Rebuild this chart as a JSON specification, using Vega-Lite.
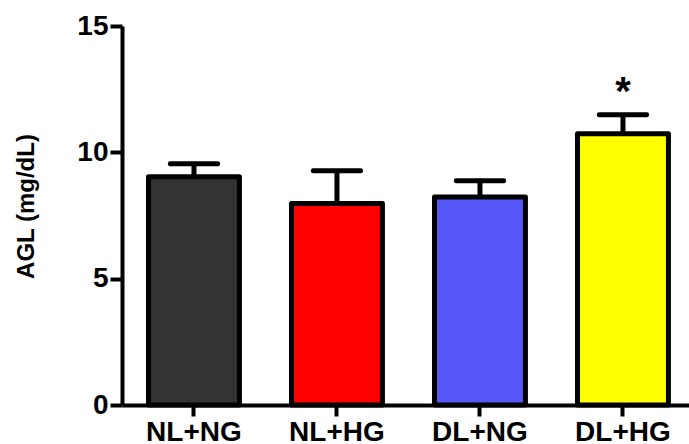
{
  "$schema": "https://vega.github.io/schema/vega-lite/v6.json",
  "autosize": {"type": "none"},
  "padding": {"left": 122, "top": 26, "right": 0, "bottom": 39},
  "width": 567,
  "height": 379,
  "background": "white",
  "config": {"view": {"stroke": null}},
  "data": {
    "values": [
      {"group": "NL+NG", "mean": 9.03, "upper": 9.55, "sig": ""},
      {"group": "NL+HG", "mean": 7.97, "upper": 9.27, "sig": ""},
      {"group": "DL+NG", "mean": 8.23, "upper": 8.88, "sig": ""},
      {"group": "DL+HG", "mean": 10.74, "upper": 11.49, "sig": "*"}
    ]
  },
  "encoding": {
    "x": {
      "field": "group",
      "type": "nominal",
      "sort": ["NL+NG", "NL+HG", "DL+NG", "DL+HG"],
      "scale": {"paddingInner": 0.364, "paddingOuter": 0.1645, "align": 0.563},
      "axis": {
        "title": null,
        "labelAngle": 0,
        "labelFont": "Liberation Sans",
        "labelFontWeight": "bold",
        "labelFontSize": 28,
        "labelColor": "black",
        "labelPadding": 2,
        "tickSize": 11,
        "tickWidth": 4,
        "tickColor": "black",
        "domainColor": "black",
        "domainWidth": 4,
        "grid": false
      }
    }
  },
  "layer": [
    {
      "mark": {"type": "rule", "stroke": "black", "strokeWidth": 5},
      "encoding": {
        "y": {"field": "mean", "type": "quantitative"},
        "y2": {"field": "upper"}
      }
    },
    {
      "mark": {"type": "tick", "color": "black", "size": 52, "thickness": 5, "cornerRadius": 2, "opacity": 1},
      "encoding": {
        "y": {"field": "upper", "type": "quantitative"}
      }
    },
    {
      "mark": {"type": "bar", "stroke": "black", "strokeWidth": 5, "strokeJoin": "round"},
      "encoding": {
        "y": {
          "field": "mean",
          "type": "quantitative",
          "scale": {"domain": [0, 15], "nice": false, "zero": true},
          "axis": {
            "title": "AGL (mg/dL)",
            "values": [0, 5, 10, 15],
            "grid": false,
            "labelFont": "Liberation Sans",
            "labelFontWeight": "bold",
            "labelFontSize": 28,
            "labelColor": "black",
            "labelPadding": 2,
            "tickSize": 12,
            "tickWidth": 4,
            "tickColor": "black",
            "domainColor": "black",
            "domainWidth": 4,
            "titleFont": "Liberation Sans",
            "titleFontWeight": "bold",
            "titleFontSize": 24,
            "titleColor": "black",
            "titleAngle": 270,
            "titleAlign": "center",
            "titleBaseline": "middle",
            "titleX": -96,
            "titleY": 180
          }
        },
        "color": {
          "field": "group",
          "type": "nominal",
          "scale": {
            "domain": ["NL+NG", "NL+HG", "DL+NG", "DL+HG"],
            "range": ["#333333", "#ff0000", "#5757f7", "#ffff00"]
          },
          "legend": null
        }
      }
    },
    {
      "mark": {"type": "text", "font": "Liberation Sans", "fontSize": 40, "fontWeight": "bold", "color": "black", "baseline": "alphabetic", "dy": -10},
      "encoding": {
        "y": {"field": "upper", "type": "quantitative"},
        "text": {"field": "sig"}
      }
    }
  ]
}
